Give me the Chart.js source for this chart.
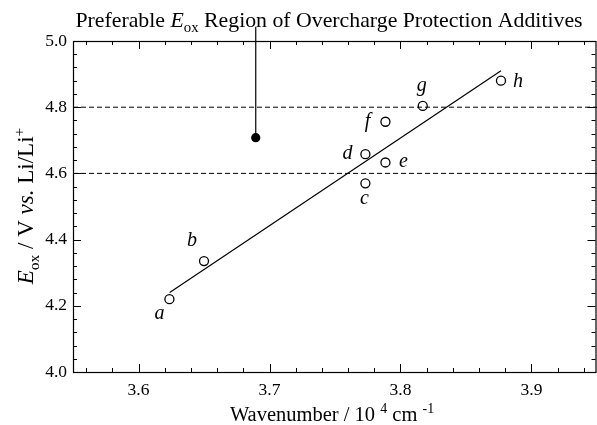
<!DOCTYPE html>
<html>
<head>
<meta charset="utf-8">
<script src="https://cdn.jsdelivr.net/npm/chart.js@4/dist/chart.umd.min.js"></script>
<style>
html,body{margin:0;padding:0;background:#fff;}
canvas{display:block;}
</style>
</head>
<body>
<canvas id="c" width="597" height="425"></canvas>
<script>
// ---- data ----
const pointNames = ['a','b','c','d','e','f','g','h'];
const wavenumber = [3.6236, 3.650, 3.7732, 3.7732, 3.7885, 3.7885, 3.817, 3.8767];
const eox        = [4.220, 4.335, 4.570, 4.658, 4.633, 4.756, 4.804, 4.880];
const fitX = [3.6238, 3.8767];
const fitY = [4.240, 4.910];
const limitLevels = [4.8, 4.6];
const xRange = [3.55, 3.95];
const yRange = [4.0, 5.0];
const markerX = [3.6895, 3.6895];
const markerY = [4.708, 5.043];
const xTickLabels = ['3.6','3.7','3.8','3.9'];
const yTickLabels = ['4.0','4.2','4.4','4.6','4.8','5.0'];

const FONT = '"Liberation Serif", "Times New Roman", serif';

function richText(ctx, segs, x, y, size, align) {
  let total = 0;
  const items = segs.map(s => {
    const fs = (s.sub || s.sup) ? size * 0.68 : size;
    const f = (s.italic ? 'italic ' : '') + fs + 'px ' + FONT;
    ctx.font = f;
    const w = ctx.measureText(s.t).width;
    total += w;
    return {s, f, w};
  });
  let cx = align === 'center' ? x - total / 2 : x;
  ctx.textBaseline = 'alphabetic';
  ctx.textAlign = 'left';
  items.forEach(it => {
    ctx.font = it.f;
    let dy = 0;
    if (it.s.sub) dy = size * 0.25;
    if (it.s.sup) dy = -size * 0.38;
    ctx.fillText(it.s.t, cx, y + dy);
    cx += it.w;
  });
}

const labelOffsets = {
  a: [-10, 15], b: [-12, -20], c: [-1, 15], d: [-18, 0], e: [18, -1],
  f: [-18, 0], g: [-1, -20], h: [17, 1]
};

const zeroPad = () => ({left: 0, top: 0, right: 0, bottom: 0});

const decor = {
  id: 'decor',
  afterDatasetsDraw(chart) {
    const ctx = chart.ctx;
    const a = chart.chartArea;
    const xs = chart.scales.x, ys = chart.scales.y;
    ctx.save();
    ctx.strokeStyle = '#000';
    ctx.lineWidth = 1.2;
    ctx.strokeRect(Math.round(a.left) + 0.5, Math.round(a.top) + 0.5, Math.round(a.right - a.left) - 1.5, Math.round(a.bottom - a.top));
    ctx.lineWidth = 1;
    ctx.beginPath();
    for (let i = 0; i <= 20; i++) {
      const val = Math.round((xRange[0] + 0.01 + i * 0.02) * 100) / 100;
      if (val > xRange[1]) break;
      const major = Math.abs(val * 10 - Math.round(val * 10)) < 1e-6;
      const len = major ? 8 : 4;
      const px = Math.round(xs.getPixelForValue(val)) + 0.5;
      ctx.moveTo(px, a.bottom); ctx.lineTo(px, a.bottom - len);
      ctx.moveTo(px, a.top); ctx.lineTo(px, a.top + len);
    }
    for (let i = 0; i <= 25; i++) {
      const val = Math.round((yRange[0] + i * 0.04) * 100) / 100;
      if (val > yRange[1] + 1e-9) break;
      const major = Math.abs(val * 5 - Math.round(val * 5)) < 1e-6;
      const len = major ? 8 : 4;
      const py = Math.round(ys.getPixelForValue(val)) + 0.5;
      ctx.moveTo(a.left, py); ctx.lineTo(a.left + len, py);
      ctx.moveTo(a.right - 1.5, py); ctx.lineTo(a.right - 1.5 - len, py);
    }
    ctx.stroke();

    ctx.fillStyle = '#000';
    ctx.font = 'italic 20px ' + FONT;
    ctx.textAlign = 'center';
    ctx.textBaseline = 'middle';
    pointNames.forEach((n, i) => {
      const px = xs.getPixelForValue(wavenumber[i]);
      const py = ys.getPixelForValue(eox[i]);
      const o = labelOffsets[n];
      ctx.fillText(n, px + o[0], py + o[1]);
    });

    richText(ctx, [
      {t: 'Preferable '}, {t: 'E', italic: true}, {t: 'ox', sub: true},
      {t: ' Region of Overcharge Protection Additives'}
    ], 329, 27, 21.8, 'center');

    richText(ctx, [
      {t: 'Wavenumber / 10 '}, {t: '4', sup: true}, {t: ' cm '}, {t: '-1', sup: true}
    ], 332, 421, 20.5, 'center');

    ctx.save();
    ctx.translate(33, 206);
    ctx.rotate(-Math.PI / 2);
    richText(ctx, [
      {t: 'E', italic: true}, {t: 'ox', sub: true}, {t: ' / V '}, {t: 'vs.', italic: true},
      {t: ' Li/Li'}, {t: '+', sup: true}
    ], 0, 0, 23, 'center');
    ctx.restore();
    ctx.restore();
  }
};

new Chart(document.getElementById('c'), {
  type: 'scatter',
  data: {
    datasets: [
      {
        data: [{x: xRange[0], y: limitLevels[0]}, {x: xRange[1], y: limitLevels[0]}],
        showLine: true, borderColor: '#000', borderWidth: 1, borderDash: [5, 3], pointRadius: 0
      },
      {
        data: [{x: xRange[0], y: limitLevels[1]}, {x: xRange[1], y: limitLevels[1]}],
        showLine: true, borderColor: '#000', borderWidth: 1, borderDash: [5, 3], pointRadius: 0
      },
      {
        data: fitX.map((x, i) => ({x, y: fitY[i]})),
        showLine: true, borderColor: '#000', borderWidth: 1.2, pointRadius: 0
      },
      {
        data: markerX.map((x, i) => ({x, y: markerY[i]})),
        showLine: true, borderColor: '#000', borderWidth: 1.2, clip: false,
        pointRadius: [4, 0], pointBackgroundColor: '#000', pointBorderColor: '#000'
      },
      {
        data: wavenumber.map((x, i) => ({x, y: eox[i]})),
        showLine: false, pointRadius: 4.5, pointBorderWidth: 1.3,
        pointBackgroundColor: '#fff', pointBorderColor: '#000'
      }
    ]
  },
  options: {
    responsive: false,
    animation: false,
    events: [],
    layout: {autoPadding: false, padding: {top: 41, right: 0, left: 0, bottom: 0}},
    plugins: {legend: {display: false}, tooltip: {enabled: false}, title: {display: false}},
    scales: {
      x: {
        type: 'linear', min: xRange[0], max: xRange[1],
        grid: {display: false, drawTicks: false},
        border: {display: false},
        afterBuildTicks: s => { s.ticks = xTickLabels.map(t => ({value: parseFloat(t)})); },
        ticks: {
          padding: 8, color: '#000', font: {family: FONT, size: 17.5},
          maxRotation: 0, callback: v => v.toFixed(1)
        },
        afterFit: s => { s.height = 53; s.paddingLeft = 0; s.paddingRight = 0; s.getPadding = zeroPad; }
      },
      y: {
        type: 'linear', min: yRange[0], max: yRange[1],
        grid: {display: false, drawTicks: false},
        border: {display: false},
        afterBuildTicks: s => { s.ticks = yTickLabels.map(t => ({value: parseFloat(t)})); },
        ticks: {
          padding: 6, color: '#000', font: {family: FONT, size: 17.5},
          callback: v => v.toFixed(1)
        },
        afterFit: s => { s.width = 73; s.paddingTop = 0; s.paddingBottom = 0; s.getPadding = zeroPad; }
      }
    }
  },
  plugins: [decor]
});
</script>
</body>
</html>
